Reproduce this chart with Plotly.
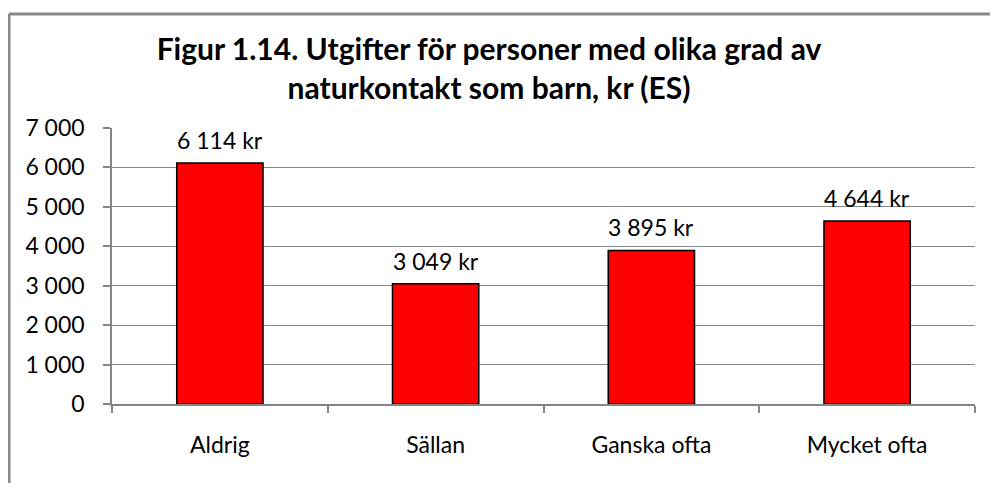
import plotly.graph_objects as go

categories = ["Aldrig", "Sällan", "Ganska ofta", "Mycket ofta"]
values = [6114, 3049, 3895, 4644]
value_labels = ["6 114 kr", "3 049 kr", "3 895 kr", "4 644 kr"]
y_tickvals = [0, 1000, 2000, 3000, 4000, 5000, 6000, 7000]
y_ticktext = ["0", "1 000", "2 000", "3 000", "4 000", "5 000", "6 000", "7 000"]
title_text = "<b>Figur 1.14. Utgifter för personer med olika grad av<br>naturkontakt som barn, kr (ES)</b>"

FONT = "Lato, 'Open Sans', sans-serif"
OFF = 8  # browser body margin
W, H = 998 - OFF, 483 - OFF
L, R, T, B = 112 - OFF, 23, 128 - OFF, 79
pw, ph = W - L - R, H - T - B

fig = go.Figure(go.Bar(
    x=categories, y=values,
    marker=dict(color="#FF0000", line=dict(color="black", width=1.5)),
    width=0.4,
))

for c, v, t in zip(categories, values, value_labels):
    fig.add_annotation(x=c, y=v, text=t, showarrow=False, yanchor="bottom",
                       yshift=7, font=dict(size=23, color="black", family=FONT))

fig.update_layout(
    width=W, height=H,
    margin=dict(l=L, r=R, t=T, b=B, autoexpand=False),
    paper_bgcolor="white", plot_bgcolor="white",
    showlegend=False,
    font=dict(family=FONT, size=23, color="black"),
    title=dict(text=title_text, x=(489 - OFF) / W, xanchor="center",
               y=1 - (60 - OFF) / H, yanchor="middle",
               font=dict(size=30, family=FONT, color="black")),
    xaxis=dict(showline=True, linecolor="#868686", linewidth=1.5,
               ticks="outside", ticklen=7, tickcolor="#868686", tickwidth=1.5,
               tickson="boundaries", showgrid=False, automargin=False,
               tickfont=dict(size=23), ticklabelstandoff=20),
    yaxis=dict(range=[0, 7000], tickvals=y_tickvals, ticktext=y_ticktext,
               showline=True, linecolor="#868686", linewidth=1.5,
               ticks="outside", ticklen=7, tickcolor="#868686", tickwidth=1.5,
               showgrid=True, gridcolor="#868686", gridwidth=1.2, automargin=False,
               zeroline=False, tickfont=dict(size=23), ticklabelstandoff=14),
)

# outer frame (cut at right and bottom like the reference)
x0 = (9 - 112) / pw
y1 = (404 - 14) / ph
fig.add_shape(type="line", xref="paper", yref="paper", x0=x0, x1=(W - L + 5) / pw,
              y0=y1, y1=y1, line=dict(color="#888888", width=3))
fig.add_shape(type="line", xref="paper", yref="paper", x0=x0, x1=x0,
              y0=y1, y1=-(B + 5) / ph, line=dict(color="#888888", width=3))

fig.write_html("out.html")
